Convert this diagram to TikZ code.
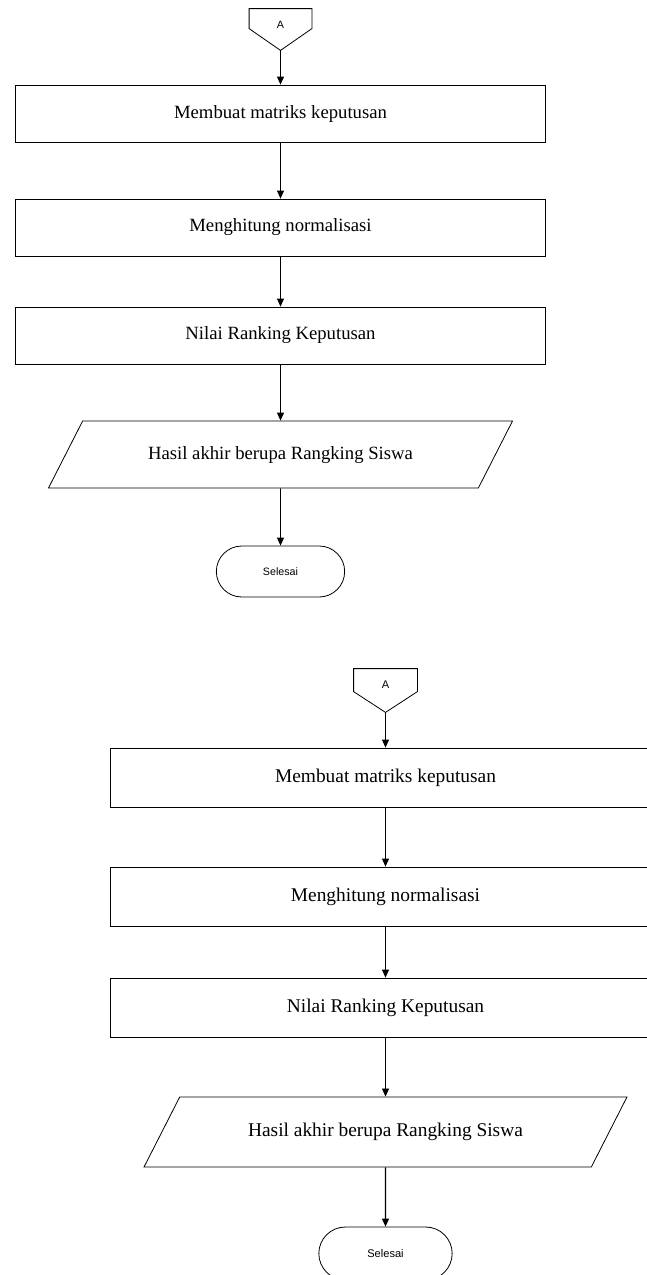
\documentclass[tikz,border=0pt]{standalone}
\usepackage{fontspec}
\setmainfont{Liberation Serif}
\setsansfont{Liberation Sans}
\usepackage{tikz}
\usetikzlibrary{arrows.meta,shapes.geometric,shapes.misc}

\begin{document}
\begin{tikzpicture}[->,>={Triangle[length=8pt,width=7pt]},line width=0.8pt,
    offpage/.style={rectangle,minimum width=62pt,minimum height=41pt,text height=7.5pt,text depth=10pt,
      font=\sffamily\fontsize{10.7}{12}\selectfont},
    process/.style={rectangle,draw,minimum width=530pt,minimum height=57pt,font=\fontsize{18.7}{22}\selectfont},
    io/.style={trapezium,draw,trapezium left angle=63,trapezium right angle=117,trapezium stretches body=true,
      text height=13pt,text depth=4pt,inner ysep=25pt,minimum width=464pt,font=\fontsize{18.7}{22}\selectfont},
    terminal/.style={rounded rectangle,draw,minimum width=135pt,minimum height=51pt,
      font=\sffamily\fontsize{10.7}{12}\selectfont}]

  \useasboundingbox (0,0) rectangle (646pt,-1275pt);

  % first copy
  \node[offpage] (a1) at (280.5pt,-29.5pt) {A};
  \draw[-] (a1.north west) -- (a1.north east) -- ([yshift=-20pt]a1.north east) -- (a1.south)
    -- ([yshift=-20pt]a1.north west) -- cycle;
  \node[process, node distance=84pt, below of=a1] (b1) {Membuat matriks keputusan};
  \node[process, node distance=114pt, below of=b1] (b2) {Menghitung normalisasi};
  \node[process, node distance=108pt, below of=b2] (b3) {Nilai Ranking Keputusan};
  \node[io, node distance=119pt, below of=b3] (p1) {Hasil akhir berupa Rangking Siswa};
  \node[terminal, node distance=117pt, below of=p1] (t1) {Selesai};

  \path (a1) edge (b1)
        (b1) edge (b2)
        (b2) edge (b3)
        (b3) edge (p1)
        (p1) edge (t1);

  % second copy, a bit larger
  \begin{scope}[offpage/.append style={minimum width=63pt,minimum height=43pt,text depth=11pt,
      font=\sffamily\fontsize{11.1}{13}\selectfont},
    process/.append style={minimum width=551pt,minimum height=59pt,font=\fontsize{19.4}{23}\selectfont},
    io/.append style={text height=13.5pt,text depth=4.2pt,inner ysep=26.2pt,minimum width=483pt,
      font=\fontsize{19.4}{23}\selectfont},
    terminal/.append style={minimum width=140pt,minimum height=53pt,font=\sffamily\fontsize{11.1}{13}\selectfont}]
  \node[offpage] (a2) at (385.5pt,-690.5pt) {A};
  \draw[-] (a2.north west) -- (a2.north east) -- ([yshift=-23pt]a2.north east) -- (a2.south)
    -- ([yshift=-23pt]a2.north west) -- cycle;
  \node[process, node distance=87pt, below of=a2] (c1) {Membuat matriks keputusan};
  \node[process, node distance=119pt, below of=c1] (c2) {Menghitung normalisasi};
  \node[process, node distance=111pt, below of=c2] (c3) {Nilai Ranking Keputusan};
  \node[io, node distance=124.5pt, below of=c3] (p2) {Hasil akhir berupa Rangking Siswa};
  \node[terminal, node distance=121.5pt, below of=p2] (t2) {Selesai};

  \path (a2) edge (c1)
        (c1) edge (c2)
        (c2) edge (c3)
        (c3) edge (p2)
        (p2) edge[line width=1.3pt] (t2);
  \end{scope}
\end{tikzpicture}
\end{document}
